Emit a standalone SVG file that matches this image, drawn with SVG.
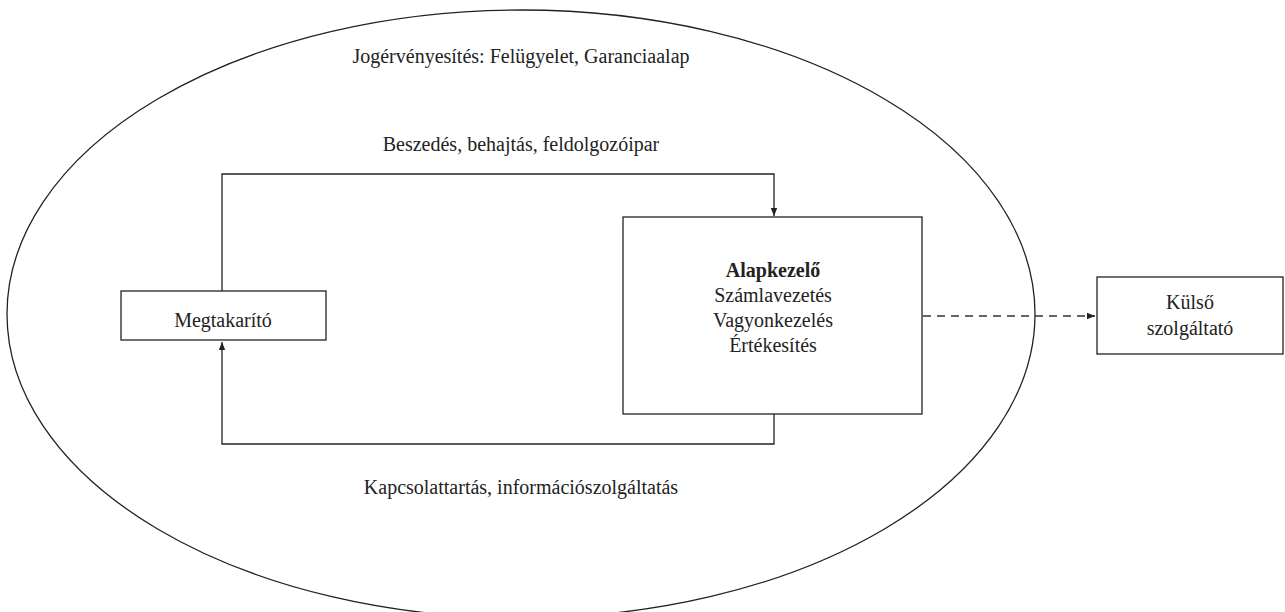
<svg xmlns="http://www.w3.org/2000/svg" width="1285" height="612" viewBox="0 0 1285 612">
<style>
.box{fill:#fff;stroke:#222;stroke-width:1.3}
.ln{fill:none;stroke:#222;stroke-width:1.3}
.dash{fill:none;stroke:#333;stroke-width:1.6;stroke-dasharray:8 6}
text{font-family:"Liberation Serif","Times New Roman",serif;font-size:20px;fill:#222;text-anchor:middle}
.b{font-weight:bold}
</style>
<defs>
<marker id="ah" viewBox="0 0 10 10" refX="10" refY="5" markerWidth="8" markerHeight="8" markerUnits="userSpaceOnUse" orient="auto">
<path d="M0,1 L10,5 L0,9 z" fill="#222"/>
</marker>
</defs>
<rect width="1285" height="612" fill="#fff"/>
<g id="scope">
<ellipse cx="521" cy="314" rx="514" ry="304" class="ln"/>
<text x="521" y="63">Jogérvényesítés: Felügyelet, Garanciaalap</text>
</g>
<g id="connectors">
<polyline class="ln" points="222,291 222,174 774,174 774,216" marker-end="url(#ah)"/>
<polyline class="ln" points="774,414 774,444 222,444 222,342" marker-end="url(#ah)"/>
<line class="dash" x1="923" y1="316" x2="1095" y2="316" marker-end="url(#ah)"/>
<text x="521" y="151">Beszedés, behajtás, feldolgozóipar</text>
<text x="521" y="494">Kapcsolattartás, információszolgáltatás</text>
</g>
<g id="megtakarito">
<rect class="box" x="121" y="291" width="205" height="49"/>
<text x="223" y="327">Megtakarító</text>
</g>
<g id="alapkezelo">
<rect class="box" x="623" y="217" width="299" height="197"/>
<text class="b" x="773" y="277">Alapkezelő</text>
<text x="773" y="302">Számlavezetés</text>
<text x="773" y="327">Vagyonkezelés</text>
<text x="773" y="352">Értékesítés</text>
</g>
<g id="kulso">
<rect class="box" x="1097" y="277" width="186" height="77"/>
<text x="1190" y="309">Külső</text>
<text x="1190" y="335">szolgáltató</text>
</g>
</svg>
